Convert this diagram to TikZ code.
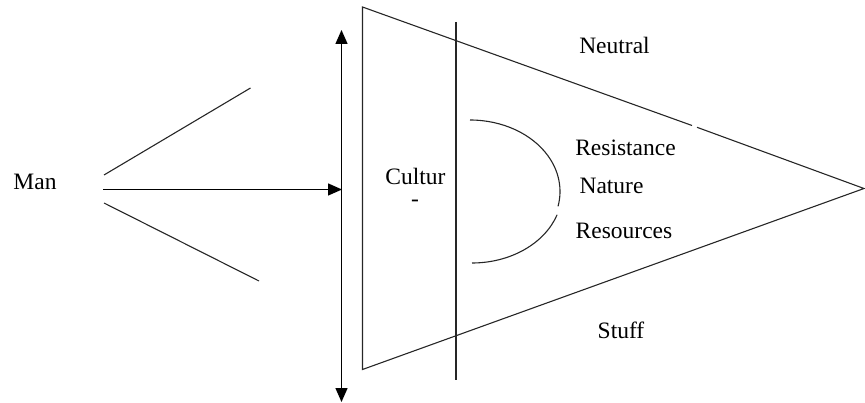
\documentclass[tikz,border=0pt]{standalone}
\usepackage{fontspec}
\setmainfont{Liberation Serif}
\usetikzlibrary{arrows.meta}
\begin{document}
\begin{tikzpicture}[x=1pt,y=-1pt,
  thin line/.style={line width=1.1pt, draw=black!85},
  lbl/.style={font=\fontsize{23.5}{25}\selectfont, inner sep=0pt},
  arr/.style={line width=1.4pt, -{Triangle[length=14pt,width=12pt]}},
  darr/.style={line width=1.4pt, {Triangle[length=14pt,width=12pt]}-{Triangle[length=14pt,width=12pt]}}]
\useasboundingbox (0,0) rectangle (865,403);
% coordinates
\coordinate (tl) at (362.5,7);
\coordinate (bl) at (362.5,369.5);
\coordinate (apex) at (864,188.5);
\coordinate (gapA) at (692,125.5);
\coordinate (gapB) at (697,127.3);
\coordinate (vtop) at (456,22);
\coordinate (vbot) at (456,380);
\coordinate (dtop) at (341.5,30);
\coordinate (dbot) at (341.5,402);
\coordinate (astart) at (103,189.5);
\coordinate (aend) at (342,189.5);
\coordinate (u1) at (104,175);
\coordinate (u2) at (250.5,88);
\coordinate (l1) at (104,203);
\coordinate (l2) at (259,281);
\coordinate (arcT) at (470,120);
\coordinate (arcB) at (472,263);
% triangle
\draw[thin line] (gapA) -- (tl) -- (bl) -- (apex) -- (gapB);
% vertical line
\draw[thin line] (vtop) -- (vbot);
% double arrow
\draw[darr] (dtop) -- (dbot);
% horizontal arrow
\draw[arr] (astart) -- (aend);
% V lines
\draw[thin line] (u1) -- (u2);
\draw[thin line] (l1) -- (l2);
% arc (y axis points down, so -90 is the top)
\draw[thin line] (arcT) arc[start angle=-90, end angle=12, x radius=90, y radius=71.5];
\draw[thin line] (arcB) arc[start angle=90, end angle=19, x radius=90, y radius=71.5];
% labels
\node[lbl] (man) at (35,182) {Man};
\node[lbl] (cultur) at (415.5,176) {Cultur};
\node[lbl] (dash) at (415,203) {-};
\node[lbl] (neutral) at (614.5,45) {Neutral};
\node[lbl] (resistance) at (625.5,147.5) {Resistance};
\node[lbl] (nature) at (611.5,186) {Nature};
\node[lbl] (resources) at (624,230.5) {Resources};
\node[lbl] (stuff) at (621,330.5) {Stuff};
\end{tikzpicture}
\end{document}
